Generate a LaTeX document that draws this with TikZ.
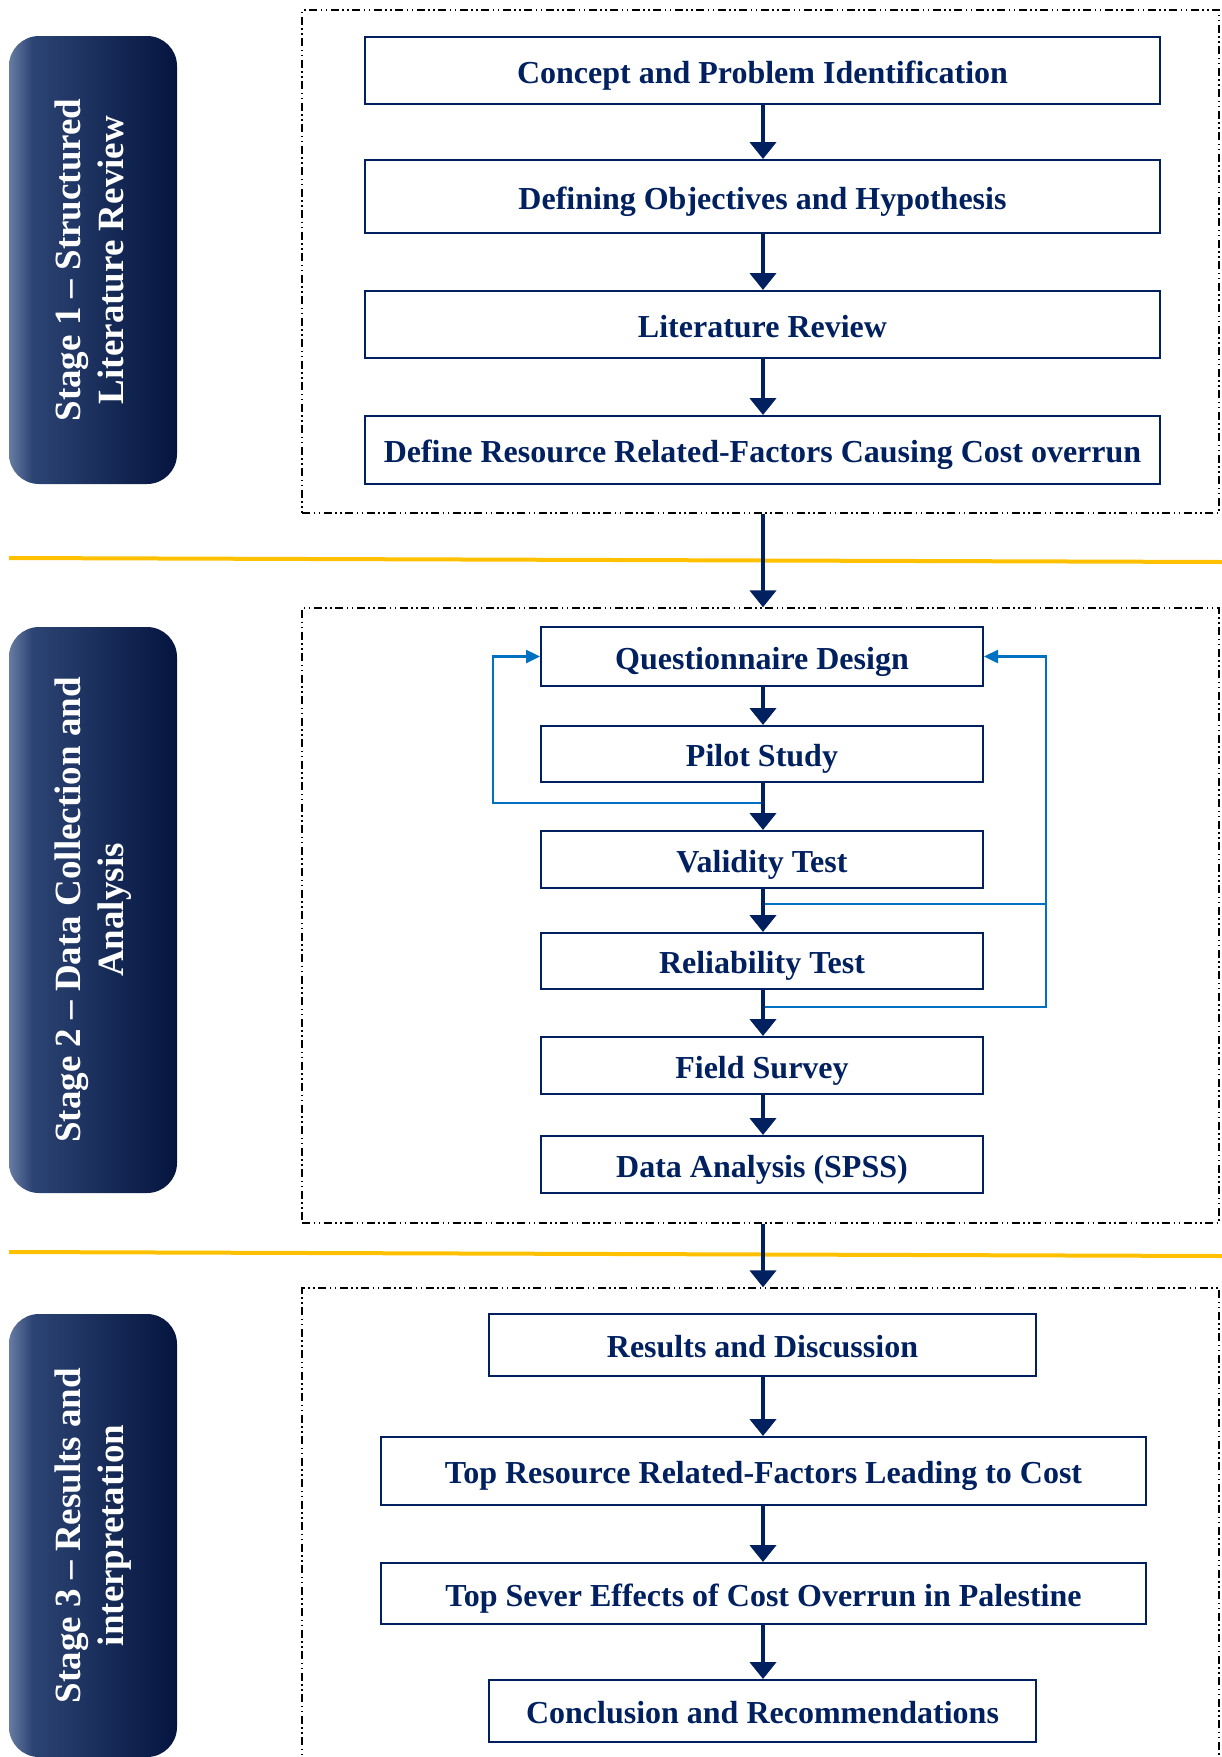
\documentclass[tikz,border=0pt]{standalone}
\usepackage{fontspec}
\setmainfont{Liberation Serif}
\usetikzlibrary{arrows.meta,calc}

\definecolor{navy}{RGB}{0,32,96}
\definecolor{fbblue}{RGB}{0,112,192}
\definecolor{gold}{RGB}{255,192,0}
\definecolor{stL}{RGB}{104,124,162}
\definecolor{stM}{RGB}{44,68,116}
\definecolor{stR}{RGB}{4,20,62}
\pgfdeclarehorizontalshading{stageshade}{100bp}{color(0bp)=(stL); color(25bp)=(stL); color(32bp)=(stM); color(75bp)=(stR); color(100bp)=(stR)}

\tikzset{
  stepbox/.style={draw=navy, line width=2pt, fill=white, text=navy,
    font=\fontsize{32}{38}\selectfont\bfseries, inner sep=0pt, align=center,
    text height=30pt, text depth=5pt},
  stagebox/.style={shading=stageshade, rounded corners=30pt, text=white,
    minimum width=168pt, inner sep=0pt,
    font=\fontsize{37}{43}\selectfont\bfseries},
  groupbox/.style={draw=black, line width=1.4pt,
    dash pattern=on 8pt off 3.5pt on 1.5pt off 3.5pt on 1.5pt off 3.5pt,
    minimum width=917pt, inner sep=0pt},
  flow/.style={draw=navy, line width=4.5pt, -{Triangle[width=26pt,length=17pt]}},
  fb/.style={draw=fbblue, line width=2.5pt},
  fbarrow/.style={fb, -{Triangle[width=13pt,length=14pt]}},
  divider/.style={draw=gold, line width=4pt},
}

\begin{document}
\begin{tikzpicture}[x=1pt, y=-1pt]
\useasboundingbox (0,0) rectangle (1222,1757);

% stage labels
\node[stagebox, minimum height=448pt] (s1) at (93,260)
  {\rotatebox{90}{\begin{tabular}{@{}c@{}}Stage 1 – Structured\\Literature Review\end{tabular}}};
\node[stagebox, minimum height=566pt] (s2) at (93,910)
  {\rotatebox{90}{\begin{tabular}{@{}c@{}}Stage 2 – Data Collection and\\Analysis\end{tabular}}};
\node[stagebox, minimum height=443pt] (s3) at (93,1535.5)
  {\rotatebox{90}{\begin{tabular}{@{}c@{}}Stage 3 – Results and\\interpretation\end{tabular}}};

% dividers between stages
\draw[divider] (9,558) -- (1222,562);
\draw[divider] (9,1252) -- (1222,1256);

% group frames
\node[groupbox, minimum height=503pt] (g1) at (760.5,261.5) {};
\node[groupbox, minimum height=615pt] (g2) at (760.5,915.5) {};
\node[groupbox, minimum height=512pt] (g3) at (760.5,1544) {};

% stage 1
\node[stepbox, minimum width=795pt, minimum height=67pt] (c1) at (762.5,70.5) {Concept and Problem Identification};
\node[stepbox, minimum width=795pt, minimum height=73pt] (c2) at (762.5,196.5) {Defining Objectives and Hypothesis};
\node[stepbox, minimum width=795pt, minimum height=67pt] (c3) at (762.5,324.5) {Literature Review};
\node[stepbox, minimum width=795pt, minimum height=68pt] (c4) at (762.5,450) {Define Resource Related-Factors Causing Cost overrun};

% stage 2
\node[stepbox, minimum width=442pt, minimum height=59pt] (q) at (762,656.5) {Questionnaire Design};
\node[stepbox, minimum width=442pt, minimum height=56pt] (p) at (762,754) {Pilot Study};
\node[stepbox, minimum width=442pt, minimum height=57pt] (v) at (762,859.5) {Validity Test};
\node[stepbox, minimum width=442pt, minimum height=56pt] (r) at (762,961) {Reliability Test};
\node[stepbox, minimum width=442pt, minimum height=57pt] (f) at (762,1065.5) {Field Survey};
\node[stepbox, minimum width=442pt, minimum height=57pt] (d) at (762,1164.5) {Data Analysis (SPSS)};

% stage 3
\node[stepbox, minimum width=547pt, minimum height=62pt] (res) at (762.5,1345) {Results and Discussion};
\node[stepbox, minimum width=765pt, minimum height=68pt] (top) at (763.5,1471) {Top Resource Related-Factors Leading to Cost};
\node[stepbox, minimum width=765pt, minimum height=61pt] (sev) at (763.5,1593.5) {Top Sever Effects of Cost Overrun in Palestine};
\node[stepbox, minimum width=547pt, minimum height=62pt] (con) at (762.5,1711) {Conclusion and Recommendations};

% feedback loops
\coordinate (lp) at (763,803);
\coordinate (rv) at (763,904);
\coordinate (rr) at (763,1007);
\draw[fbarrow] (lp) -- (493,803) |- (q.west);
\draw[fbarrow] (rv) -- (1046,904) |- (q.east);
\draw[fb] (rr) -- (1046,1007) -- (1046,904);

% main flow
\draw[flow] (c1.south -| 763,0) -- (c2.north -| 763,0);
\draw[flow] (c2.south -| 763,0) -- (c3.north -| 763,0);
\draw[flow] (c3.south -| 763,0) -- (c4.north -| 763,0);
\draw[flow] (g1.south -| 763,0) -- (g2.north -| 763,0);
\draw[flow] (q.south -| 763,0) -- (p.north -| 763,0);
\draw[flow] (p.south -| 763,0) -- (v.north -| 763,0);
\draw[flow] (v.south -| 763,0) -- (r.north -| 763,0);
\draw[flow] (r.south -| 763,0) -- (f.north -| 763,0);
\draw[flow] (f.south -| 763,0) -- (d.north -| 763,0);
\draw[flow] (g2.south -| 763,0) -- (g3.north -| 763,0);
\draw[flow] (res.south -| 763,0) -- (top.north -| 763,0);
\draw[flow] (top.south -| 763,0) -- (sev.north -| 763,0);
\draw[flow] (sev.south -| 763,0) -- (con.north -| 763,0);
\end{tikzpicture}
\end{document}
